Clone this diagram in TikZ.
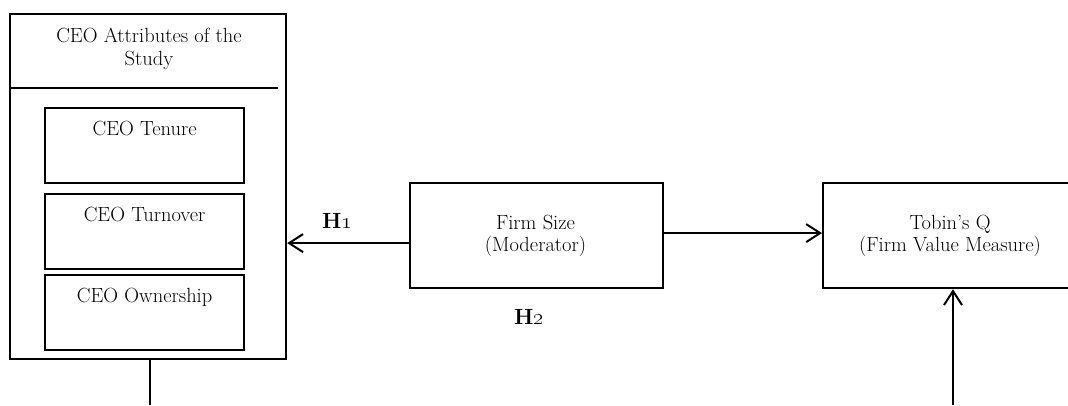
\documentclass[tikz,border=0pt]{standalone}
\usepackage{fix-cm}
\usetikzlibrary{arrows.meta}
\begin{document}
\begin{tikzpicture}[x=1pt,y=-1pt,
  box/.style={draw, line width=2.2pt, inner sep=0pt, anchor=north west},
  txt/.style={font=\fontsize{20.5}{22.5}\selectfont, align=center, inner sep=0pt},
  hyp/.style={font=\fontsize{22}{26}\selectfont\bfseries, inner sep=0pt},
  link/.style={line width=2pt},
  arr/.style={link, -{Straight Barb[length=14pt,width=18pt,line width=2pt]}}]
\useasboundingbox (0,0) rectangle (1068,405);
\clip (0,0) rectangle (1068,405);

% left panel: study attributes
\node[box, minimum width=276pt, minimum height=345pt] (outer) at (9,13) {};
\node[txt, anchor=north] (title) at (149,28) {CEO Attributes of the\\Study};
\coordinate (dl) at (9,88);
\coordinate (dr) at (278,88);
\draw[line width=2.2pt] (dl) -- (dr);

\node[box, minimum width=199pt, minimum height=75pt] (tenure) at (44,107) {};
\node[txt, anchor=north] (tenuret) at ([yshift=-14pt]tenure.north) {CEO Tenure};
\node[box, minimum width=199pt, minimum height=75pt] (turn) at (44,193) {};
\node[txt, anchor=north] (turnt) at ([yshift=-14pt]turn.north) {CEO Turnover};
\node[box, minimum width=199pt, minimum height=75pt] (own) at (44,274) {};
\node[txt, anchor=north] (ownt) at ([yshift=-14pt]own.north) {CEO Ownership};

% moderator and outcome
\node[box, minimum width=253pt, minimum height=105pt] (firm) at (409,182) {};
\node[txt] (firmt) at (535.5,236) {Firm Size\\(Moderator)};
\node[box, minimum width=256pt, minimum height=105pt] (tobin) at (822,182) {};
\node[txt] (tobint) at (950,236) {Tobin's Q\\(Firm Value Measure)};

% hypothesis labels
\node[hyp] (h1) at (337,221) {H\oldstylenums{1}};
\node[hyp] (h2) at (529,317) {H\oldstylenums{2}};

% connectors
\draw[arr] ([yshift=-7.5pt]firm.west) -- ([yshift=-7.5pt]firm.west -| outer.east);
\draw[arr] ([yshift=2.5pt]firm.east) -- ([yshift=2.5pt]firm.east -| tobin.west);
\coordinate (ob) at (150,405);
\draw[link] (outer.south -| ob) -- (ob);
\coordinate (qb) at (953,405);
\draw[arr] (qb) -- (qb |- tobin.south);
\end{tikzpicture}
\end{document}
